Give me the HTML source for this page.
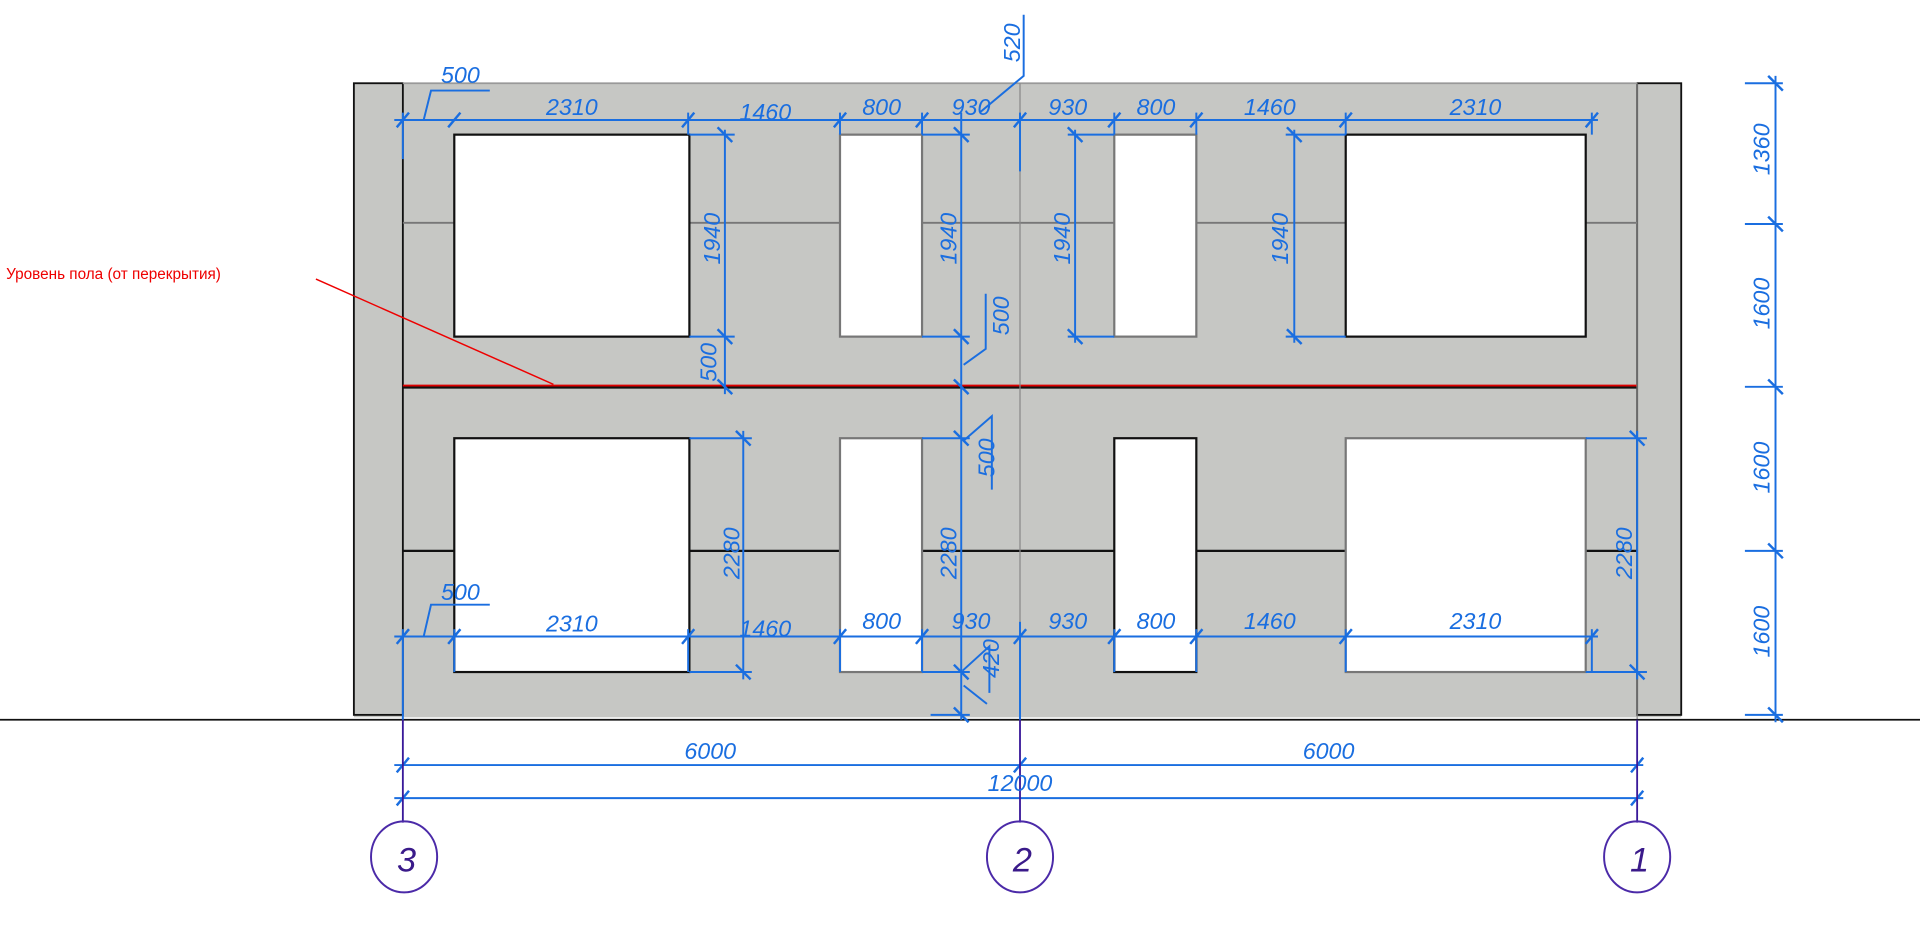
<!DOCTYPE html>
<html><head><meta charset="utf-8"><style>
html,body{margin:0;padding:0;background:#fff;width:1920px;height:945px;overflow:hidden}
svg{display:block}
.d{stroke:#1a6ee0;stroke-width:1.6;fill:none}
.t{fill:#1a6ee0;font-family:"Liberation Sans",sans-serif;font-style:italic;font-size:19px}
.k{stroke:#1a6ee0;stroke-width:2}
</style></head><body>
<svg width="1920" height="945" viewBox="0 0 1568 772" preserveAspectRatio="none">
<!-- wall -->
<rect x="289" y="68" width="1084" height="518" fill="#c6c7c4"/>
<rect x="289" y="68" width="40" height="516" fill="#c6c7c4" stroke="#111" stroke-width="1.5"/>
<rect x="1337" y="68" width="36" height="516" fill="#c6c7c4" stroke="#111" stroke-width="1.5"/>
<line x1="329" y1="68" x2="1337" y2="68" stroke="#999" stroke-width="1.5"/>
<line x1="329" y1="182" x2="1337" y2="182" stroke="#777" stroke-width="1.5"/>
<line x1="329" y1="450" x2="1337" y2="450" stroke="#111" stroke-width="1.8"/>
<line x1="329" y1="316" x2="1337" y2="316" stroke="#111" stroke-width="3"/>
<line x1="329" y1="315" x2="1337" y2="315" stroke="#d00" stroke-width="1.5"/>
<line x1="833" y1="68" x2="833" y2="588" stroke="#888" stroke-width="1"/>
<line x1="1337" y1="68" x2="1337" y2="588" stroke="#888" stroke-width="1"/>
<line x1="0" y1="588" x2="1568" y2="588" stroke="#111" stroke-width="1.5"/>
<!-- windows -->
<g fill="#fff" stroke="#111" stroke-width="1.8">
<rect x="371" y="110" width="192" height="165"/>
<rect x="686" y="110" width="67" height="165" stroke="#777"/>
<rect x="910" y="110" width="67" height="165" stroke="#777"/>
<rect x="1099" y="110" width="196" height="165"/>
<rect x="371" y="358" width="192" height="191"/>
<rect x="686" y="358" width="67" height="191" stroke="#777"/>
<rect x="910" y="358" width="67" height="191"/>
<rect x="1099" y="358" width="196" height="191" stroke="#777"/>
</g>
<!-- red label -->
<text x="5" y="228" fill="#e00" font-family="Liberation Sans,sans-serif" font-size="12.5">Уровень пола (от перекрытия)</text>
<line x1="258" y1="228" x2="452" y2="314" stroke="#e00" stroke-width="1.2"/>
<!-- top horizontal chain -->
<g class="d">
<line x1="322" y1="98" x2="1305" y2="98"/>
<line x1="329" y1="92" x2="329" y2="130"/>
<line x1="562" y1="92" x2="562" y2="110"/><line x1="686" y1="92" x2="686" y2="110"/>
<line x1="753" y1="92" x2="753" y2="110"/><line x1="833" y1="92" x2="833" y2="140"/>
<line x1="910" y1="92" x2="910" y2="110"/><line x1="977" y1="92" x2="977" y2="110"/>
<line x1="1099" y1="92" x2="1099" y2="110"/><line x1="1300" y1="92" x2="1300" y2="110"/>
<line x1="322" y1="520" x2="1305" y2="520"/>
<line x1="329" y1="514" x2="329" y2="588"/>
<line x1="371" y1="514" x2="371" y2="549"/>
<line x1="562" y1="514" x2="562" y2="549"/><line x1="686" y1="514" x2="686" y2="549"/>
<line x1="753" y1="514" x2="753" y2="549"/><line x1="833" y1="508" x2="833" y2="588"/>
<line x1="910" y1="514" x2="910" y2="549"/><line x1="977" y1="514" x2="977" y2="549"/>
<line x1="1099" y1="514" x2="1099" y2="549"/><line x1="1300" y1="514" x2="1300" y2="549"/>
<!-- 500 leaders -->
<polyline points="400,74 352,74 346,98"/><polyline points="400,494 352,494 346,520"/>
<!-- 520 leader -->
<polyline points="836,12 836,62 800,92"/>
<!-- vertical dims -->
<line x1="592" y1="106" x2="592" y2="322"/><line x1="563" y1="110" x2="600" y2="110"/><line x1="563" y1="275" x2="600" y2="275"/>
<line x1="785" y1="92" x2="785" y2="588"/>
<line x1="753" y1="110" x2="792" y2="110"/><line x1="753" y1="275" x2="792" y2="275"/><line x1="753" y1="358" x2="792" y2="358"/><line x1="753" y1="549" x2="792" y2="549"/><line x1="760" y1="584" x2="792" y2="584"/>
<line x1="878" y1="106" x2="878" y2="280"/><line x1="872" y1="110" x2="910" y2="110"/><line x1="872" y1="275" x2="910" y2="275"/>
<line x1="1057" y1="106" x2="1057" y2="280"/><line x1="1050" y1="110" x2="1099" y2="110"/><line x1="1050" y1="275" x2="1099" y2="275"/>
<line x1="607" y1="352" x2="607" y2="555"/><line x1="563" y1="358" x2="614" y2="358"/><line x1="563" y1="549" x2="614" y2="549"/>
<line x1="1337" y1="352" x2="1337" y2="555"/><line x1="1295" y1="358" x2="1345" y2="358"/><line x1="1295" y1="549" x2="1345" y2="549"/>
<line x1="1450" y1="62" x2="1450" y2="590"/>
<line x1="1425" y1="68" x2="1456" y2="68"/><line x1="1425" y1="183" x2="1456" y2="183"/><line x1="1425" y1="316" x2="1456" y2="316"/><line x1="1425" y1="450" x2="1456" y2="450"/><line x1="1425" y1="584" x2="1456" y2="584"/>
<!-- 500 / 420 leaders near 785 -->
<polyline points="787,298 805,285 805,240"/><polyline points="787,360 810,340 810,400"/><polyline points="787,560 806,575"/><polyline points="786,548 808,528 808,566"/>
<!-- bottom overall -->
<line x1="322" y1="625" x2="1342" y2="625"/><line x1="322" y1="652" x2="1342" y2="652"/>
</g>
<!-- ticks -->
<g class="k">
<path d="M324 104L334 92M366 104L376 92M557 104L567 92M681 104L691 92M748 104L758 92M828 104L838 92M905 104L915 92M972 104L982 92M1094 104L1104 92M1295 104L1305 92"/>
<path d="M324 526L334 514M366 526L376 514M557 526L567 514M681 526L691 514M748 526L758 514M828 526L838 514M905 526L915 514M972 526L982 514M1094 526L1104 514M1295 526L1305 514"/>
<path d="M586 104L598 116M586 269L598 281M586 310L598 322M779 104L791 116M779 269L791 281M779 310L791 322M779 352L791 364M779 543L791 555M779 578L791 590M872 104L884 116M872 269L884 281M1051 104L1063 116M1051 269L1063 281M601 352L613 364M601 543L613 555M1331 352L1343 364M1331 543L1343 555M1444 62L1456 74M1444 177L1456 189M1444 310L1456 322M1444 444L1456 456M1444 578L1456 590"/>
<path d="M324 631L334 619M828 631L838 619M1332 631L1342 619M324 658L334 646M1332 658L1342 646"/>
</g>
<!-- axis lines -->
<g stroke="#3a1a9a" stroke-width="1.5">
<line x1="329" y1="588" x2="329" y2="672"/><line x1="833" y1="588" x2="833" y2="672"/><line x1="1337" y1="588" x2="1337" y2="672"/>
</g>
<g fill="none" stroke="#4b2aa8" stroke-width="1.6">
<ellipse cx="330" cy="700" rx="27" ry="29"/><ellipse cx="833" cy="700" rx="27" ry="29"/><ellipse cx="1337" cy="700" rx="27" ry="29"/>
</g>
<g fill="#3a1a8a" font-family="Liberation Sans,sans-serif" font-style="italic" font-size="28" text-anchor="middle">
<text x="332" y="712">3</text><text x="835" y="712">2</text><text x="1339" y="712">1</text>
</g>
<!-- dimension texts -->
<g class="t" text-anchor="middle">
<text x="467" y="94">2310</text><text x="625" y="98">1460</text><text x="720" y="94">800</text><text x="793" y="94">930</text>
<text x="872" y="94">930</text><text x="944" y="94">800</text><text x="1037" y="94">1460</text><text x="1205" y="94">2310</text>
<text x="376" y="68">500</text><text x="376" y="490">500</text>
<text x="467" y="516">2310</text><text x="625" y="520">1460</text><text x="720" y="514">800</text><text x="793" y="514">930</text>
<text x="872" y="514">930</text><text x="944" y="514">800</text><text x="1037" y="514">1460</text><text x="1205" y="514">2310</text>
<text x="580" y="620">6000</text><text x="1085" y="620">6000</text><text x="833" y="646">12000</text>
<text transform="translate(833,35) rotate(-90)">520</text>
<text transform="translate(588,195) rotate(-90)">1940</text>
<text transform="translate(585,296) rotate(-90)">500</text>
<text transform="translate(781,195) rotate(-90)">1940</text>
<text transform="translate(874,195) rotate(-90)">1940</text>
<text transform="translate(1052,195) rotate(-90)">1940</text>
<text transform="translate(824,258) rotate(-90)">500</text>
<text transform="translate(812,374) rotate(-90)">500</text>
<text transform="translate(781,452) rotate(-90)">2280</text>
<text transform="translate(604,452) rotate(-90)">2280</text>
<text transform="translate(1333,452) rotate(-90)">2280</text>
<text transform="translate(816,538) rotate(-90)">420</text>
<text transform="translate(1445,122) rotate(-90)">1360</text>
<text transform="translate(1445,248) rotate(-90)">1600</text>
<text transform="translate(1445,382) rotate(-90)">1600</text>
<text transform="translate(1445,516) rotate(-90)">1600</text>
</g>
</svg>
</body></html>
